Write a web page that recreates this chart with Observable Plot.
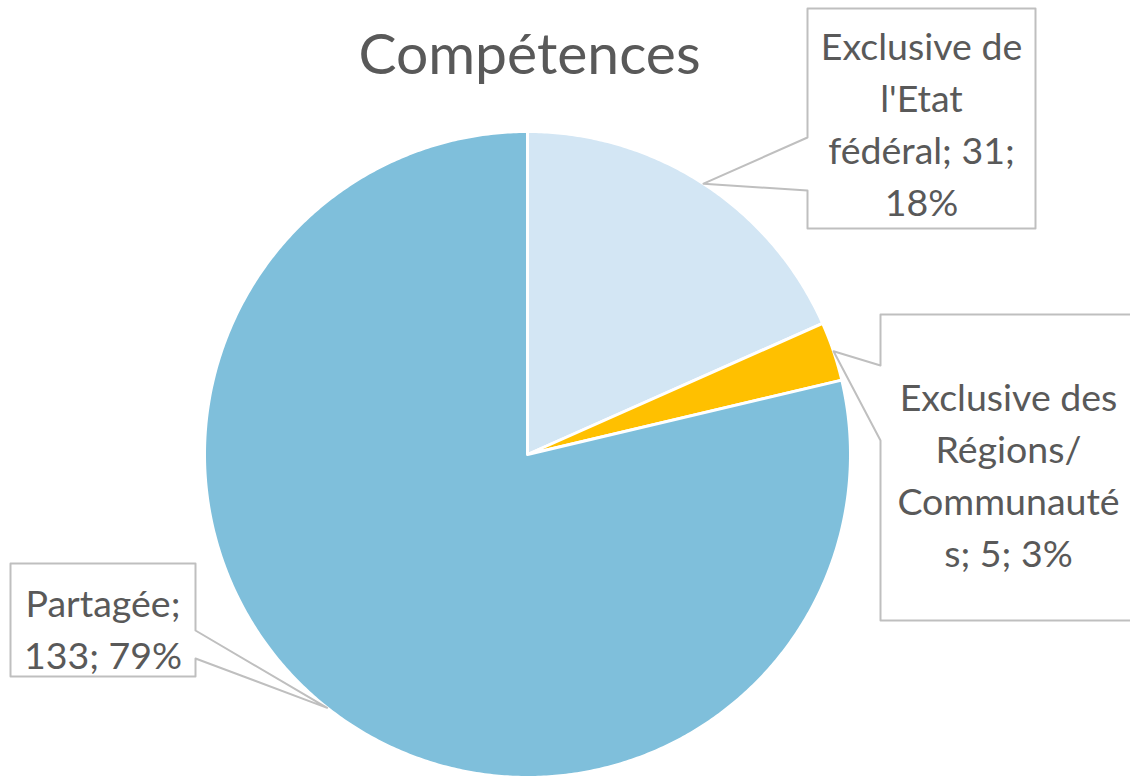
<!DOCTYPE html>
<html>
<head>
<meta charset="utf-8">
<script src="https://cdn.jsdelivr.net/npm/d3@7"></script>
<script src="https://cdn.jsdelivr.net/npm/@observablehq/plot@0.6"></script>
<style>
  html, body { margin: 0; padding: 0; background: #fff; }
  #chart svg { display: block; }
</style>
</head>
<body>
<div id="chart"></div>
<script>
// ---- data ----
const titleText = "Compétences";
const categories = ["Exclusive de l'Etat fédéral", "Exclusive des Régions/Communautés", "Partagée"];
const counts = [31, 5, 133];
const colors = ["#d3e6f4", "#ffc000", "#7fbfdb"];
const labelLines = [
  "Exclusive de\nl'Etat\nfédéral; 31;\n18%",
  "Exclusive des\nRégions/\nCommunauté\ns; 5; 3%",
  "Partagée;\n133; 79%"
];

// ---- layout (pixels) ----
const W = 1130, H = 778;
const CX = 527, CY = 454, R = 323;
const px = p => (p - CX) / R;
const py = p => (CY - p) / R;
const boxes = [
  {x0: 807, y0: 8,   x1: 1035, y1: 228, side: "left",  g0: 137, g1: 190, ty: 121},
  {x0: 880, y0: 314, x1: 1136, y1: 620, side: "left",  g0: 365, g1: 440, ty: 472},
  {x0: 10,  y0: 563, x1: 195,  y1: 676, side: "right", g0: 630, g1: 658, ty: 626}
];

// ---- pie geometry ----
const arcs = d3.pie().sort(null).value(d => d)(counts);
const slicePts = [];
arcs.forEach((a, i) => {
  slicePts.push({cat: categories[i], x: 0, y: 0});
  const n = Math.max(2, Math.ceil((a.endAngle - a.startAngle) / (Math.PI / 360)));
  for (let k = 0; k <= n; k++) {
    const t = a.startAngle + (a.endAngle - a.startAngle) * k / n;
    slicePts.push({cat: categories[i], x: Math.sin(t), y: Math.cos(t)});
  }
});

// callout outlines
const calloutPts = [];
arcs.forEach((a, i) => {
  const b = boxes[i];
  const m = (a.startAngle + a.endAngle) / 2;
  const tip = [CX + R * Math.sin(m), CY - R * Math.cos(m)];
  let pts;
  if (b.side === "left") {
    pts = [[b.x0, b.y0], [b.x1, b.y0], [b.x1, b.y1], [b.x0, b.y1], [b.x0, b.g1], tip, [b.x0, b.g0]];
  } else {
    pts = [[b.x0, b.y0], [b.x1, b.y0], [b.x1, b.g0], tip, [b.x1, b.g1], [b.x1, b.y1], [b.x0, b.y1]];
  }
  pts.forEach(p => calloutPts.push({id: i, x: px(p[0]), y: py(p[1])}));
});

const labels = boxes.map((b, i) => ({text: labelLines[i], x: px((b.x0 + b.x1) / 2), y: py(b.ty)}));

const chart = Plot.plot({
  width: W,
  height: H,
  margin: 0,
  x: {domain: [-1, 1], range: [CX - R, CX + R], axis: null},
  y: {domain: [-1, 1], range: [CY + R, CY - R], axis: null},
  color: {domain: categories, range: colors},
  style: {fontFamily: "Lato, 'Open Sans', sans-serif", background: "white"},
  marks: [
    Plot.line(slicePts, {x: "x", y: "y", z: "cat", fill: "cat", stroke: "white", strokeWidth: 3, curve: "linear-closed", strokeLinejoin: "round"}),
    Plot.line(calloutPts, {x: "x", y: "y", z: "id", fill: "white", stroke: "#bfbfbf", strokeWidth: 2, curve: "linear-closed"}),
    Plot.text(labels, {x: "x", y: "y", text: "text", fill: "#595959", fontSize: 37.5, lineHeight: 1.39, lineAnchor: "middle", textAnchor: "middle"}),
    Plot.text([titleText], {x: px(529), y: py(55), text: d => d, fill: "#595959", fontSize: 57, lineAnchor: "middle", textAnchor: "middle"})
  ]
});
document.getElementById("chart").appendChild(chart);
</script>
</body>
</html>
